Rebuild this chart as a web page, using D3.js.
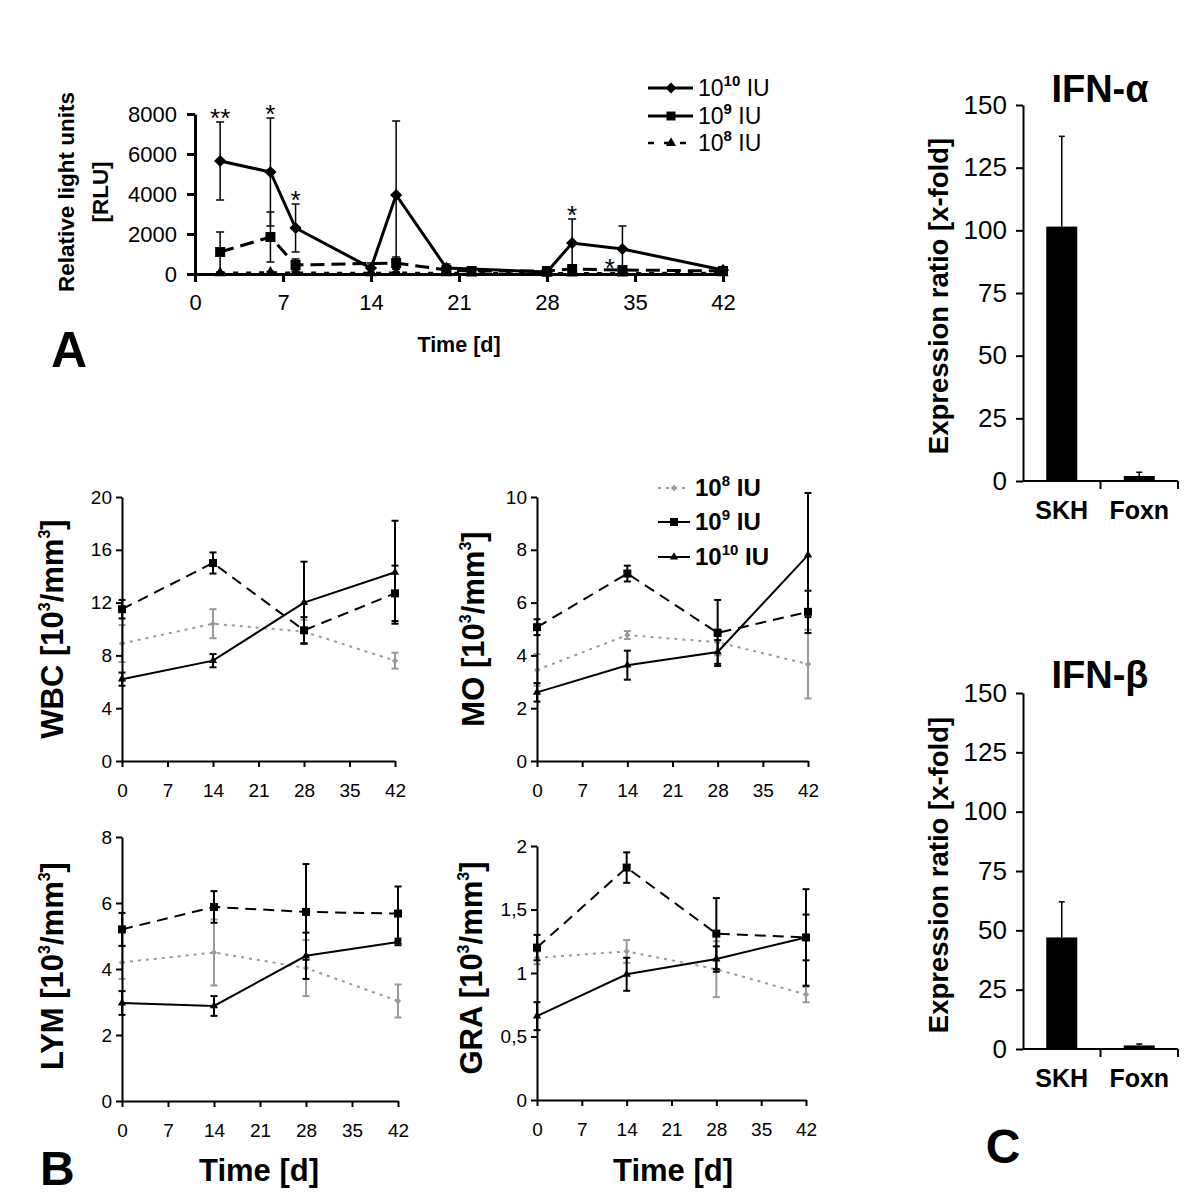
<!DOCTYPE html>
<html>
<head>
<meta charset="utf-8">
<script src="https://cdn.jsdelivr.net/npm/d3@7"></script>
<style>
body { margin: 0; background: #fff; }
text { font-family: "Liberation Sans", Arial, Helvetica, sans-serif; fill: #000; }
</style>
</head>
<body>
<div></div>
<script>
var w = 1200;
var h = 1203;

// ---- panel A : luciferase signal (RLU) ----
var aTicksX = [0, 7, 14, 21, 28, 35, 42];
var aTicksY = [0, 2000, 4000, 6000, 8000];
var days1010 = [2, 6, 8, 14, 16, 20, 28, 30, 34, 42];
var rlu1010 = [5650, 5100, 2300, 300, 3950, 300, 100, 1550, 1250, 200];
var err1010 = [1950, 2700, 1200, 250, 3700, 200, 100, 1200, 1150, 100];
var days109 = [2, 6, 8, 16, 20, 22, 28, 30, 34, 42];
var rlu109 = [1100, 1850, 450, 550, 200, 150, 150, 250, 200, 150];
var err109 = [1000, 1250, 300, 300, 100, 100, 50, 100, 100, 50];
var days108 = [2, 6, 8, 14, 16, 20, 22, 28, 30, 34, 42];
var rlu108 = [50, 80, 60, 50, 60, 50, 40, 30, 40, 40, 50];
var err108 = [40, 50, 40, 30, 40, 30, 30, 20, 30, 30, 30];
var starDays = [2, 6, 8, 30, 33];
var starVals = [7600, 7800, 3500, 2750, 100];
var starText = ["**", "*", "*", "*", "*"];

// ---- panel B : blood counts ----
var bDays = [0, 14, 28, 42];
var bTicksX = [0, 7, 14, 21, 28, 35, 42];
var wbc108 = [8.9, 10.4, 9.8, 7.6],   wbc108Err = [1.4, 1.1, 0.9, 0.6];
var wbc109 = [11.5, 15.0, 9.9, 12.7], wbc109Err = [0.7, 0.8, 1.0, 2.1];
var wbc1010 = [6.2, 7.6, 12.0, 14.3], wbc1010Err = [0.5, 0.5, 3.1, 3.9];
var mo108 = [3.45, 4.77, 4.5, 3.67],  mo108Err = [0.6, 0.15, 0.5, 1.3];
var mo109 = [5.07, 7.1, 4.85, 5.65],  mo109Err = [0.3, 0.3, 1.25, 0.8];
var mo1010 = [2.6, 3.63, 4.13, 7.8],  mo1010Err = [0.35, 0.55, 0.45, 2.35];
var lym108 = [4.2, 4.5, 4.03, 3.03],  lym108Err = [0.5, 1.0, 0.85, 0.5];
var lym109 = [5.2, 5.88, 5.73, 5.68], lym109Err = [0.5, 0.48, 1.45, 0.82];
var lym1010 = [2.97, 2.88, 4.4, 4.82], lym1010Err = [0.36, 0.3, 0.7, 0.1];
var gra108 = [1.12, 1.17, 1.03, 0.83], gra108Err = [0.05, 0.09, 0.22, 0.06];
var gra109 = [1.2, 1.83, 1.31, 1.28],  gra109Err = [0.1, 0.12, 0.28, 0.38];
var gra1010 = [0.66, 0.99, 1.11, 1.28], gra1010Err = [0.11, 0.13, 0.1, 0.18];

// ---- panel C : interferon expression ----
var strains = ["SKH", "Foxn"];
var cTicks = [0, 25, 50, 75, 100, 125, 150];
var ifnA = [101.5, 2];
var ifnAErr = [36, 1.5];
var ifnB = [47, 1.5];
var ifnBErr = [15, 0.6];

var grey = "#999";

var svg = d3.select("div").append("svg")
	.attr("width", w)
	.attr("height", h);

function styleAxis(g, lw, fs) {
	g.attr("font-family", null);
	g.select(".domain").attr("stroke", "#000").attr("stroke-width", lw);
	g.selectAll(".tick line").attr("stroke", "#000").attr("stroke-width", lw);
	g.selectAll(".tick text").attr("font-size", fs).attr("fill", "#000");
}

function supText(t, base, exp, after, supSize, shift, supBold) {
	t.append("tspan").text(base);
	t.append("tspan").attr("dy", -shift).attr("font-size", supSize)
		.attr("font-weight", supBold ? "bold" : null).text(exp);
	t.append("tspan").attr("dy", shift).text(after);
}

function marker(g, x, y, sym, size, color) {
	if (sym == "diamond") {
		g.append("path")
			.attr("d", d3.symbol(d3.symbolSquare, size)())
			.attr("transform", "translate(" + x + "," + y + ") rotate(45)")
			.attr("fill", color);
	} else {
		g.append("path")
			.attr("d", d3.symbol(sym, size)())
			.attr("transform", "translate(" + x + "," + y + ")")
			.attr("fill", color);
	}
}

function drawSeries(g, xs, ys, days, vals, errs, st) {
	var pts = days.map(function(d, i) { return {d: d, v: vals[i], e: errs[i]}; });

	//error bars
	var eb = g.append("g").attr("stroke", st.color).attr("stroke-width", st.ew);
	pts.forEach(function(p) {
		var x = xs(p.d);
		var top = ys(p.v + p.e);
		var bot = ys(Math.max(0, p.v - p.e));
		eb.append("line").attr("x1", x).attr("x2", x).attr("y1", top).attr("y2", bot);
		eb.append("line").attr("x1", x - st.cap).attr("x2", x + st.cap).attr("y1", top).attr("y2", top);
		eb.append("line").attr("x1", x - st.cap).attr("x2", x + st.cap).attr("y1", bot).attr("y2", bot);
	});

	var line = d3.line()
		.x(function(p) { return xs(p.d); })
		.y(function(p) { return ys(p.v); });

	g.append("path")
		.datum(pts)
		.attr("d", line)
		.attr("fill", "none")
		.attr("stroke", st.color)
		.attr("stroke-width", st.lw)
		.attr("stroke-dasharray", st.dash);

	pts.forEach(function(p) {
		marker(g, xs(p.d), ys(p.v), st.sym, st.size, st.color);
	});
}

// ================= panel A =================
var ax = d3.scaleLinear().domain([0, 42]).range([195, 723]);
var ay = d3.scaleLinear().domain([0, 8000]).range([274, 114]);
var gA = svg.append("g");

var stA108 = {color: "#000", lw: 2.5, ew: 1.5, cap: 4, dash: "5,8", sym: d3.symbolTriangle, size: 55};
var stA109 = {color: "#000", lw: 3, ew: 1.5, cap: 4, dash: "14,7", sym: d3.symbolSquare, size: 100};
var stA1010 = {color: "#000", lw: 3, ew: 1.5, cap: 4, dash: null, sym: "diamond", size: 75};

drawSeries(gA, ax, ay, days108, rlu108, err108, stA108);
drawSeries(gA, ax, ay, days109, rlu109, err109, stA109);
drawSeries(gA, ax, ay, days1010, rlu1010, err1010, stA1010);

gA.append("g").attr("transform", "translate(0,274)")
	.call(d3.axisBottom(ax).tickValues(aTicksX).tickSize(8).tickSizeOuter(0).tickPadding(12))
	.call(styleAxis, 3, 22);
gA.append("g").attr("transform", "translate(195,0)")
	.call(d3.axisLeft(ay).tickValues(aTicksY).tickSize(8).tickSizeOuter(0).tickPadding(10)
		.tickFormat(d3.format("d")))
	.call(styleAxis, 3, 22);

gA.selectAll("text.star")
	.data(starDays)
	.enter()
	.append("text")
	.attr("class", "star")
	.attr("x", function(d) { return ax(d); })
	.attr("y", function(d, i) { return ay(starVals[i]) + 5; })
	.attr("text-anchor", "middle")
	.attr("font-size", 26)
	.text(function(d, i) { return starText[i]; });

gA.append("text")
	.attr("transform", "translate(74,192) rotate(-90)")
	.attr("text-anchor", "middle").attr("font-size", 22.5).attr("font-weight", "bold")
	.text("Relative light units");
gA.append("text")
	.attr("transform", "translate(108,192) rotate(-90)")
	.attr("text-anchor", "middle").attr("font-size", 22.5).attr("font-weight", "bold")
	.text("[RLU]");
gA.append("text")
	.attr("x", 459).attr("y", 352)
	.attr("text-anchor", "middle").attr("font-size", 21.5).attr("font-weight", "bold")
	.text("Time [d]");
gA.append("text")
	.attr("x", 51).attr("y", 367)
	.attr("font-size", 50).attr("font-weight", "bold")
	.text("A");

//legend A
var legA = [
	{st: stA1010, exp: "10", after: " IU", y: 88},
	{st: stA109, exp: "9", after: "  IU", y: 116},
	{st: stA108, exp: "8", after: "  IU", y: 143}
];
legA.forEach(function(l) {
	gA.append("line")
		.attr("x1", 648).attr("x2", 693).attr("y1", l.y).attr("y2", l.y)
		.attr("stroke", "#000").attr("stroke-width", l.st.lw)
		.attr("stroke-dasharray", l.st.dash ? (l.st.sym == d3.symbolSquare ? "20,5,20" : "6,10") : null);
	marker(gA, 671, l.y, l.st.sym, l.st.size * 0.8, "#000");
	var t = gA.append("text").attr("x", 698).attr("y", l.y + 8).attr("font-size", 23);
	supText(t, "10", l.exp, l.after, 15, 10, true);
});

// ================= panel B =================
var st108 = {color: grey, lw: 2, ew: 2, cap: 3.5, dash: "3,5", sym: "diamond", size: 20};
var st109 = {color: "#000", lw: 2, ew: 2, cap: 3.5, dash: "11,7", sym: d3.symbolSquare, size: 64};
var st1010 = {color: "#000", lw: 2, ew: 2, cap: 3.5, dash: null, sym: d3.symbolTriangle, size: 30};

var panelsB = [
	{label: "WBC", x0: 122, x1: 395, y0: 761, y1: 497, max: 20, ticks: [0, 4, 8, 12, 16, 20],
		s108: [wbc108, wbc108Err], s109: [wbc109, wbc109Err], s1010: [wbc1010, wbc1010Err], lx: 63, ly: 629},
	{label: "MO", x0: 537, x1: 808, y0: 761, y1: 497, max: 10, ticks: [0, 2, 4, 6, 8, 10],
		s108: [mo108, mo108Err], s109: [mo109, mo109Err], s1010: [mo1010, mo1010Err], lx: 484, ly: 629},
	{label: "LYM", x0: 122, x1: 398, y0: 1101, y1: 837, max: 8, ticks: [0, 2, 4, 6, 8],
		s108: [lym108, lym108Err], s109: [lym109, lym109Err], s1010: [lym1010, lym1010Err], lx: 63, ly: 966},
	{label: "GRA", x0: 537, x1: 806, y0: 1100, y1: 846, max: 2, ticks: [0, 0.5, 1, 1.5, 2],
		s108: [gra108, gra108Err], s109: [gra109, gra109Err], s1010: [gra1010, gra1010Err], lx: 482, ly: 968}
];

panelsB.forEach(function(p) {
	var g = svg.append("g");
	var xs = d3.scaleLinear().domain([0, 42]).range([p.x0, p.x1]);
	var ys = d3.scaleLinear().domain([0, p.max]).range([p.y0, p.y1]);

	drawSeries(g, xs, ys, bDays, p.s108[0], p.s108[1], st108);
	drawSeries(g, xs, ys, bDays, p.s109[0], p.s109[1], st109);
	drawSeries(g, xs, ys, bDays, p.s1010[0], p.s1010[1], st1010);

	g.append("g").attr("transform", "translate(0," + p.y0 + ")")
		.call(d3.axisBottom(xs).tickValues(bTicksX).tickSize(6).tickSizeOuter(0).tickPadding(17))
		.call(styleAxis, 2, 19);
	g.append("g").attr("transform", "translate(" + p.x0 + ",0)")
		.call(d3.axisLeft(ys).tickValues(p.ticks).tickSize(6).tickSizeOuter(0).tickPadding(4)
			.tickFormat(function(d) { return String(d).replace(".", ","); }))
		.call(styleAxis, 2, 19);

	var t = g.append("text")
		.attr("transform", "translate(" + p.lx + "," + p.ly + ") rotate(-90)")
		.attr("text-anchor", "middle").attr("font-size", 31).attr("font-weight", "bold");
	t.append("tspan").text(p.label + " [10");
	t.append("tspan").attr("dy", -13).attr("font-size", 16).text("3");
	t.append("tspan").attr("dy", 13).text("/mm");
	t.append("tspan").attr("dy", -13).attr("font-size", 16).text("3");
	t.append("tspan").attr("dy", 13).text("]");
});

svg.selectAll("text.timeB")
	.data([259, 673])
	.enter()
	.append("text")
	.attr("class", "timeB")
	.attr("x", function(d) { return d; })
	.attr("y", 1181)
	.attr("text-anchor", "middle").attr("font-size", 31).attr("font-weight", "bold")
	.text("Time [d]");

svg.append("text")
	.attr("x", 40).attr("y", 1185)
	.attr("font-size", 48).attr("font-weight", "bold")
	.text("B");

//legend B
var legB = [
	{st: st108, exp: "8", after: "  IU", y: 488},
	{st: st109, exp: "9", after: "  IU", y: 522},
	{st: st1010, exp: "10", after: " IU", y: 557}
];
var gLeg = svg.append("g");
legB.forEach(function(l) {
	gLeg.append("line")
		.attr("x1", 658).attr("x2", 690).attr("y1", l.y).attr("y2", l.y)
		.attr("stroke", l.st.color).attr("stroke-width", 2)
		.attr("stroke-dasharray", l.st.dash ? (l.st.sym == "diamond" ? "3,5" : "14,5,20") : null);
	marker(gLeg, 674, l.y, l.st.sym, l.st.size, l.st.color);
	var t = gLeg.append("text").attr("x", 695).attr("y", l.y + 8)
		.attr("font-size", 24).attr("font-weight", "bold");
	supText(t, "10", l.exp, l.after, 15, 10, true);
});

// ================= panel C =================
function drawBars(y0, y1, title, titleY, vals, errs, labelY) {
	var g = svg.append("g");
	var cx = d3.scaleBand().domain(strains).range([1023, 1178]).padding(0);
	var cy = d3.scaleLinear().domain([0, 150]).range([y0, y1]);
	var bw = cx.bandwidth();

	g.selectAll("rect")
		.data(vals)
		.enter()
		.append("rect")
		.attr("x", function(d, i) { return cx(strains[i]) + bw * 0.3; })
		.attr("width", bw * 0.4)
		.attr("y", function(d) { return cy(d); })
		.attr("height", function(d) { return y0 - cy(d); })
		.attr("fill", "#000");

	vals.forEach(function(d, i) {
		var x = cx(strains[i]) + bw / 2;
		g.append("line").attr("x1", x).attr("x2", x).attr("y1", cy(d)).attr("y2", cy(d + errs[i]))
			.attr("stroke", "#000").attr("stroke-width", 1.5);
		g.append("line").attr("x1", x - 3).attr("x2", x + 3).attr("y1", cy(d + errs[i])).attr("y2", cy(d + errs[i]))
			.attr("stroke", "#000").attr("stroke-width", 1.5);
	});

	g.append("g").attr("transform", "translate(1023,0)")
		.call(d3.axisLeft(cy).tickValues(cTicks).tickSize(7).tickSizeOuter(0).tickPadding(9))
		.call(styleAxis, 2, 26);

	//category axis with ticks on the band edges
	g.append("line").attr("x1", 1023).attr("x2", 1178).attr("y1", y0).attr("y2", y0)
		.attr("stroke", "#000").attr("stroke-width", 2);
	g.selectAll("line.edge")
		.data(strains.map(function(s) { return cx(s) + bw; }))
		.enter()
		.append("line")
		.attr("class", "edge")
		.attr("x1", function(d) { return d; }).attr("x2", function(d) { return d; })
		.attr("y1", y0).attr("y2", y0 + 8)
		.attr("stroke", "#000").attr("stroke-width", 2);

	g.selectAll("text.cat")
		.data(strains)
		.enter()
		.append("text")
		.attr("class", "cat")
		.attr("x", function(d) { return cx(d) + bw / 2; })
		.attr("y", y0 + 38)
		.attr("text-anchor", "middle").attr("font-size", 25).attr("font-weight", "bold")
		.text(function(d) { return d; });

	g.append("text")
		.attr("x", 1100).attr("y", titleY)
		.attr("text-anchor", "middle").attr("font-size", 38).attr("font-weight", "bold")
		.text(title);

	g.append("text")
		.attr("transform", "translate(948," + labelY + ") rotate(-90)")
		.attr("text-anchor", "middle").attr("font-size", 27.5).attr("font-weight", "bold")
		.text("Expression ratio [x-fold]");
}

drawBars(481, 105, "IFN-\u03b1", 102, ifnA, ifnAErr, 296);
drawBars(1049, 693, "IFN-\u03b2", 688, ifnB, ifnBErr, 875);

svg.append("text")
	.attr("x", 1003).attr("y", 1163)
	.attr("text-anchor", "middle")
	.attr("font-size", 48).attr("font-weight", "bold")
	.text("C");
</script>
</body>
</html>
